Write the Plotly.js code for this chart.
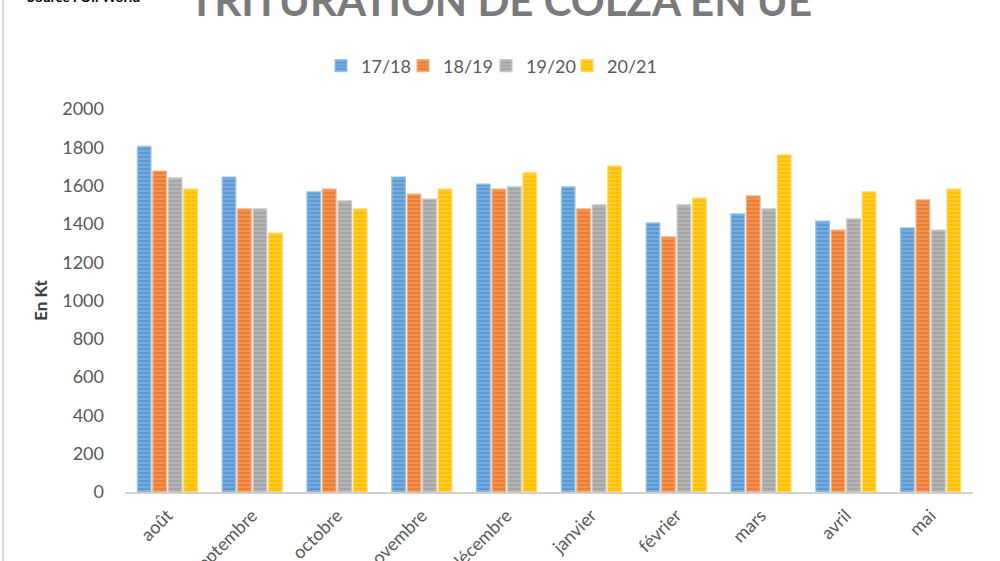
<!DOCTYPE html>
<html><head><meta charset="utf-8">
<script src="https://cdn.plot.ly/plotly-3.0.1.min.js"></script>
<style>html,body{margin:0;padding:0;background:#fff;overflow:hidden}#chart{width:1000px;height:561px}</style>
</head><body><div id="chart"></div>
<script>
const months = ["août","septembre","octobre","novembre","décembre","janvier","février","mars","avril","mai"];
const seriesNames = ["17/18","18/19","19/20","20/21"];
const s1718 = [1805,1645,1567,1645,1608,1593,1405,1452,1415,1379];
const s1819 = [1676,1478,1582,1556,1582,1478,1332,1546,1368,1525];
const s1920 = [1640,1478,1520,1530,1593,1499,1499,1478,1426,1368];
const s2021 = [1582,1352,1478,1582,1666,1702,1535,1760,1567,1582];
const colors = ["#5B9BD5","#ED7D31","#A5A5A5","#FFC000"];
const lines = ["#9DC3E6","#F4B183","#C9C9C9","#FFD966"];
const values = [s1718,s1819,s1920,s2021];
const legendIds = ["legend","legend2","legend3","legend4"];

const traces = values.map((v,i)=>({
  type:'bar', name:seriesNames[i], x:months, y:v, legend:legendIds[i],
  marker:{color:colors[i], line:{color:lines[i], width:1.2},
    pattern:{shape:'-', fgcolor:'rgba(255,255,255,0.55)', bgcolor:colors[i], size:4, solidity:0.3, fillmode:'overlay'}}
}));

const font = "Lato, 'Open Sans', sans-serif";
const H = 383, B = 492, L = 125, W = 848;
const py = p => (B - p) / H;
const px = p => (p - L) / W;
const legPos = [321, 403, 486, 567];
const layout = {
  width:1000, height:561,
  margin:{l:125,r:27,t:109,b:69},
  paper_bgcolor:'#fff', plot_bgcolor:'#fff',
  barmode:'group', bargap:0.27, bargroupgap:0.12,
  font:{family:font, color:'#595959', size:15},
  showlegend:true,
  xaxis:{type:'category', tickangle:-45, showline:true, linecolor:'#D0D0D0', linewidth:2,
         ticks:'', showgrid:false, tickfont:{size:18,color:'#595959'}, ticklabelstandoff:4, fixedrange:true},
  yaxis:{range:[0,2000], dtick:200, showgrid:false, zeroline:false, showline:false, ticks:'',
         tickfont:{size:18,color:'#595959'}, ticklabelstandoff:20,
         title:{text:"<b>En Kt</b>", font:{size:17,color:'#404040'}, standoff:10}},
  annotations:[
    {text:"<b>TRITURATION DE COLZA EN UE</b>", xref:'paper', yref:'paper', x:px(500), xanchor:'center', y:py(27), yanchor:'bottom',
     showarrow:false, font:{family:font, size:42, color:'#7A7A7A'}},
    {text:"<b>Source : Oil World</b>", xref:'paper', yref:'paper', x:px(25), xanchor:'left', y:py(7), yanchor:'bottom',
     showarrow:false, font:{size:14,color:'#000'}}
  ],
  shapes:[{type:'line', xref:'paper', yref:'paper', x0:px(3), x1:px(3), y0:-0.3, y1:1.4, line:{color:'#D9D9D9', width:2}}]
};
legendIds.forEach((id,i)=>{
  layout[id] = {orientation:'h', x:px(legPos[i]), xanchor:'left', y:py(66), yanchor:'middle',
    font:{size:18, color:'#595959'}, itemwidth:30, bgcolor:'rgba(0,0,0,0)'};
});
Plotly.newPlot('chart', traces, layout, {staticPlot:true});
</script></body></html>
